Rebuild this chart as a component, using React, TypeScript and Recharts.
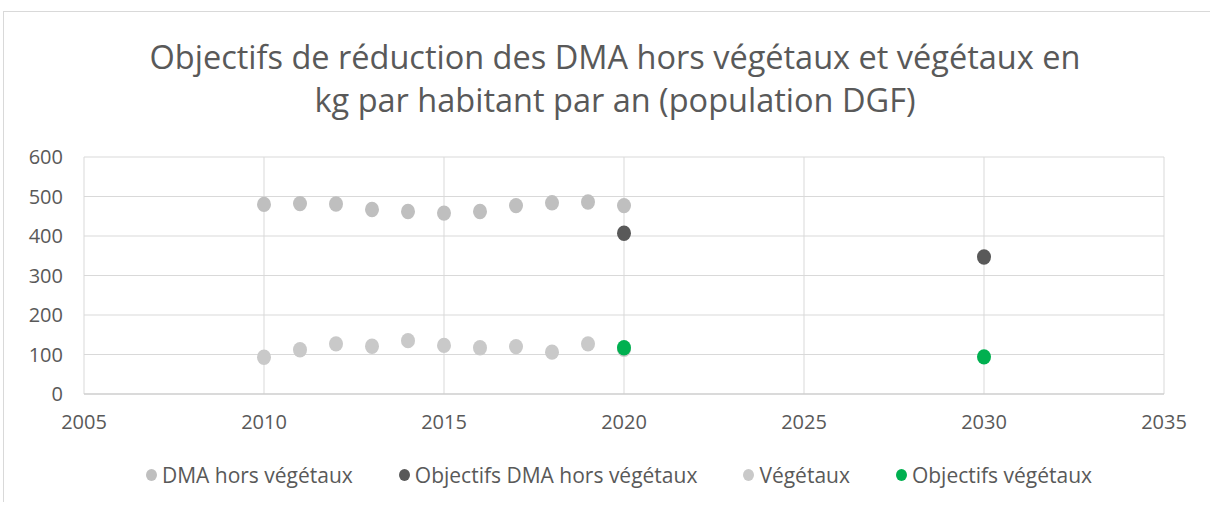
import { ScatterChart, Scatter, XAxis, YAxis, CartesianGrid, Legend } from 'recharts'

const years = [2010, 2011, 2012, 2013, 2014, 2015, 2016, 2017, 2018, 2019, 2020]
const dmaHorsVegetaux = [480, 482, 481, 467, 462, 458, 462, 477, 484, 486, 477]
const vegetaux = [93, 112, 127, 121, 135, 123, 117, 120, 106, 127, 113]
const objectifYears = [2020, 2030]
const objectifsDma = [407, 347]
const objectifsVegetaux = [117, 94]

const xTicks = [2005, 2010, 2015, 2020, 2025, 2030, 2035]
const yTicks = [0, 100, 200, 300, 400, 500, 600]

const SERIES = [
  { name: 'DMA hors végétaux', color: '#bfbfbf', data: years.map((x, i) => ({ x, y: dmaHorsVegetaux[i] })) },
  { name: 'Objectifs DMA hors végétaux', color: '#595959', data: objectifYears.map((x, i) => ({ x, y: objectifsDma[i] })) },
  { name: 'Végétaux', color: '#c9c9c9', data: years.map((x, i) => ({ x, y: vegetaux[i] })) },
  { name: 'Objectifs végétaux', color: '#00b050', data: objectifYears.map((x, i) => ({ x, y: objectifsVegetaux[i] })) },
]

const FONT = '"Open Sans", "Noto Sans", sans-serif'
const TEXT = '#595959'

function Dot(props: any) {
  const { cx, cy, fill } = props
  if (cx == null || cy == null) return null
  return <ellipse cx={cx} cy={cy} rx={7} ry={7.7} fill={fill} />
}

function LegendContent() {
  return (
    <div style={{ display: 'flex', justifyContent: 'center', gap: 46, fontFamily: FONT, fontSize: 21, color: TEXT, marginLeft: 74 }}>
      {SERIES.map((s) => (
        <div key={s.name} style={{ display: 'flex', alignItems: 'center' }}>
          <span style={{ width: 11, height: 12, borderRadius: '50%', background: s.color, display: 'inline-block', marginRight: 5 }} />
          {s.name}
        </div>
      ))}
    </div>
  )
}

export default function App() {
  return (
    <div style={{ position: 'absolute', left: 0, top: 0, width: 1210, height: 509, background: '#fff', fontFamily: FONT }}>
      <div style={{ position: 'absolute', left: 3, top: 11, width: 1207, height: 490, borderTop: '1px solid #d9d9d9', borderLeft: '1px solid #d9d9d9' }} />
      <div style={{ position: 'absolute', left: 0, top: 35, width: 1230, textAlign: 'center', fontSize: 32.5, lineHeight: '43px', color: TEXT }}>
        Objectifs de réduction des DMA hors végétaux et végétaux en
        <br />
        kg par habitant par an (population DGF)
      </div>
      <div style={{ position: 'absolute', left: 0, top: 0 }}>
        <ScatterChart width={1210} height={509} margin={{ top: 157, right: 46, bottom: 45, left: 0 }}>
          <CartesianGrid stroke="#d9d9d9" horizontal vertical verticalValues={xTicks} />
          <XAxis
            type="number"
            dataKey="x"
            domain={[2005, 2035]}
            ticks={xTicks}
            height={40}
            tickLine={false}
            axisLine={{ stroke: '#c8c8c8' }}
            tickMargin={15}
            tick={{ fill: TEXT, fontSize: 20, fontFamily: FONT }}
          />
          <YAxis
            type="number"
            dataKey="y"
            domain={[0, 600]}
            ticks={yTicks}
            width={84}
            tickLine={false}
            axisLine={false}
            tickMargin={15}
            tick={{ fill: TEXT, fontSize: 20, fontFamily: FONT }}
          />
          <Legend verticalAlign="bottom" height={30} content={<LegendContent />} wrapperStyle={{ top: 461 }} />
          {SERIES.map((s) => (
            <Scatter key={s.name} name={s.name} data={s.data} fill={s.color} shape={<Dot />} isAnimationActive={false} />
          ))}
        </ScatterChart>
      </div>
    </div>
  )
}
